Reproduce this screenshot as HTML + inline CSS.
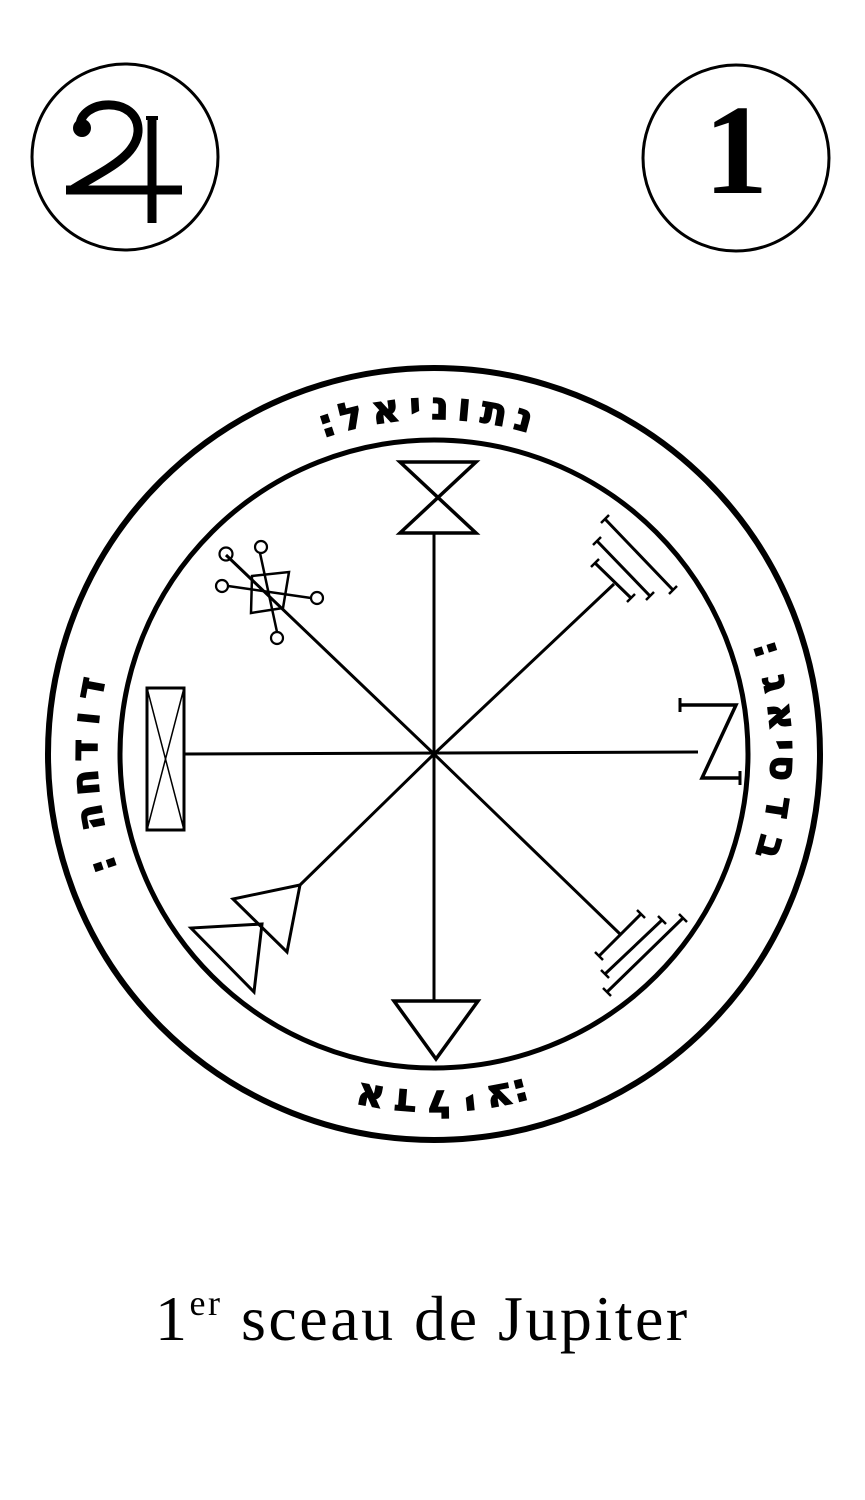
<!DOCTYPE html>
<html><head><meta charset="utf-8"><style>
html,body{margin:0;padding:0;background:#fff;width:865px;height:1500px;overflow:hidden}
svg{display:block}
</style></head><body>
<svg width="865" height="1500" viewBox="0 0 865 1500" xmlns="http://www.w3.org/2000/svg">
<g fill="none" stroke="#000">
<circle cx="125" cy="157" r="93" stroke-width="3"/>
<circle cx="736" cy="158" r="93" stroke-width="3"/>
<circle cx="434" cy="754" r="386" stroke-width="6"/>
<circle cx="434" cy="754" r="314" stroke-width="5"/>
</g>
<g stroke="#000" fill="none" stroke-linecap="butt">
<path d="M80,128 C78,98 140,95 138,132 C136,158 100,172 72,190" stroke-width="9"/>
<line x1="66" y1="190" x2="182" y2="190" stroke-width="9"/>
<line x1="152" y1="118" x2="152" y2="223" stroke-width="9"/>
<line x1="146" y1="118" x2="158" y2="118" stroke-width="4"/>
</g>
<circle cx="82" cy="128" r="9" fill="#000"/>
<text x="736" y="193" font-family="Liberation Serif, serif" font-size="128" font-weight="bold" text-anchor="middle">1</text>

<g fill="none" stroke="#000" stroke-width="3" stroke-linejoin="miter">
<line x1="434" y1="533" x2="434" y2="1001"/>
<line x1="184" y1="754" x2="698" y2="752"/>
<line x1="226" y1="555" x2="434" y2="754"/>
<line x1="434" y1="754" x2="614" y2="584"/>
<line x1="434" y1="754" x2="620" y2="934"/>
<line x1="434" y1="754" x2="300" y2="885"/>
<polygon points="400,462 476,462 400,533 476,533" stroke-width="3.5"/>
<polygon points="394,1001 478,1001 436,1059" stroke-width="3.5"/>
<rect x="147" y="688" width="37" height="142" stroke-width="3"/>
<line x1="147" y1="688" x2="184" y2="830" stroke-width="1.5"/>
<line x1="184" y1="688" x2="147" y2="830" stroke-width="1.5"/>
<polyline points="680,705 736,705 702,778 740,778" stroke-width="3.5"/>
<line x1="680" y1="698" x2="680" y2="712"/>
<line x1="740" y1="771" x2="740" y2="785"/>
<line x1="595" y1="563" x2="631" y2="598"/>
<line x1="597" y1="541" x2="650" y2="596"/>
<line x1="605" y1="519" x2="673" y2="590"/>
<g stroke-width="2.5">
<line x1="591" y1="567" x2="599" y2="559"/><line x1="627" y1="602" x2="635" y2="594"/>
<line x1="593" y1="545" x2="601" y2="537"/><line x1="646" y1="600" x2="654" y2="592"/>
<line x1="601" y1="523" x2="609" y2="515"/><line x1="669" y1="594" x2="677" y2="586"/>
</g>
<line x1="599" y1="956" x2="641" y2="914"/>
<line x1="605" y1="974" x2="662" y2="920"/>
<line x1="607" y1="992" x2="683" y2="918"/>
<g stroke-width="2.5">
<line x1="595" y1="952" x2="603" y2="960"/><line x1="637" y1="910" x2="645" y2="918"/>
<line x1="601" y1="970" x2="609" y2="978"/><line x1="658" y1="916" x2="666" y2="924"/>
<line x1="603" y1="988" x2="611" y2="996"/><line x1="679" y1="914" x2="687" y2="922"/>
</g>
<polygon points="300,885 233,899 287,952"/>
<polygon points="262,924 191,928 254,992"/>
<polygon points="252,576 289,572 283,608 251,613" stroke-width="2.5"/>
<line x1="260" y1="553" x2="277" y2="632" stroke-width="2.5"/>
<line x1="228" y1="586" x2="311" y2="598" stroke-width="2.5"/>
<g stroke-width="2.2">
<circle cx="226" cy="554" r="6.5"/>
<circle cx="261" cy="547" r="6"/>
<circle cx="222" cy="586" r="6"/>
<circle cx="317" cy="598" r="6"/>
<circle cx="277" cy="638" r="6"/>
</g>
</g>

<g font-family="DejaVu Sans, sans-serif" font-size="38" font-weight="bold" text-anchor="middle" dominant-baseline="central" fill="#000" stroke="#000" stroke-width="1.5">
<g transform="translate(434,754)">
<text transform="rotate(-18) translate(0,-348)">:</text>
<text transform="rotate(-13.8) translate(0,-348)">ל</text>
<text transform="rotate(-8) translate(0,-348)">א</text>
<text transform="rotate(-3.1) translate(0,-348)">י</text>
<text transform="rotate(1) translate(0,-348)">נ</text>
<text transform="rotate(5) translate(0,-348)">ו</text>
<text transform="rotate(10) translate(0,-348)">ת</text>
<text transform="rotate(15) translate(0,-348)">נ</text>
<text transform="rotate(72.5) translate(0,-350)">:</text>
<text transform="rotate(78.3) translate(0,-350)">ג</text>
<text transform="rotate(83.8) translate(0,-350)">א</text>
<text transform="rotate(88.5) translate(0,-350)">י</text>
<text transform="rotate(92.3) translate(0,-350)">ס</text>
<text transform="rotate(98.8) translate(0,-350)">ד</text>
<text transform="rotate(105.5) translate(0,-350)">ב</text>
<text transform="rotate(190.5) translate(0,-350)">א</text>
<text transform="rotate(184.7) translate(0,-350)">ד</text>
<text transform="rotate(179.3) translate(0,-350)">ל</text>
<text transform="rotate(174.1) translate(0,-350)">י</text>
<text transform="rotate(169.2) translate(0,-350)">צ</text>
<text transform="rotate(165.6) translate(0,-350)">:</text>
<text transform="rotate(280.8) translate(0,-350)">ד</text>
<text transform="rotate(275.9) translate(0,-350)">ו</text>
<text transform="rotate(270.6) translate(0,-350)">ד</text>
<text transform="rotate(265.3) translate(0,-350)">ח</text>
<text transform="rotate(259.5) translate(0,-350)">ה</text>
<text transform="rotate(251.4) translate(0,-350)">:</text>
</g>
</g>

<text x="155" y="1340" font-family="Liberation Serif, serif" font-size="64" letter-spacing="2.5" fill="#000">1<tspan font-size="36" dy="-25">er</tspan><tspan dy="25"> sceau de Jupiter</tspan></text>
</svg>
</body></html>
